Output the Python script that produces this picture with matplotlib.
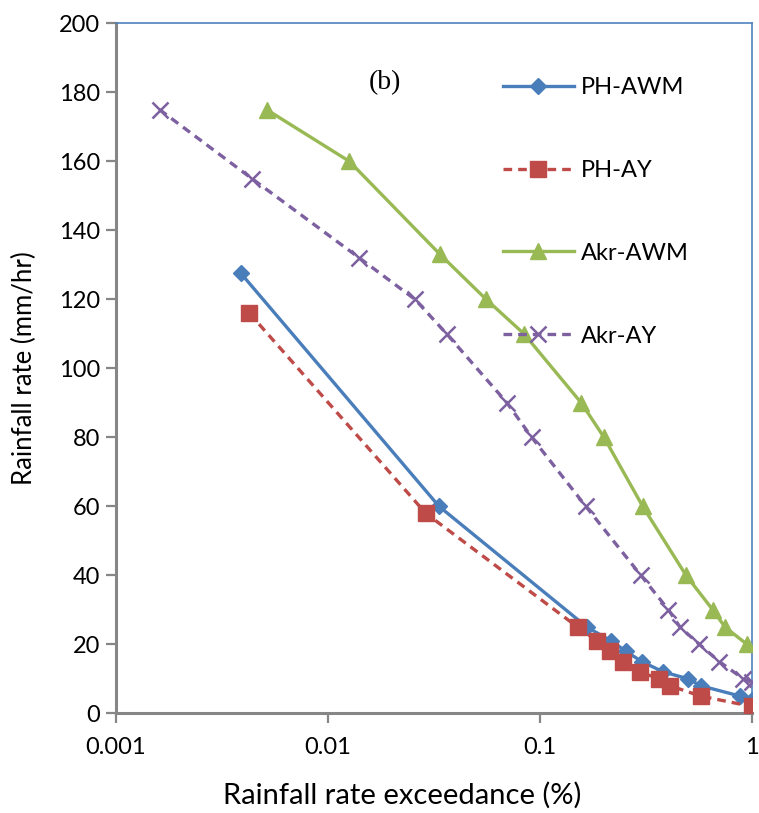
import matplotlib
matplotlib.use("Agg")
import matplotlib.pyplot as plt
from matplotlib.ticker import FixedLocator, NullLocator

# Exceedance (%) and rainfall rate (mm/hr) for each station / model
ph_awm_x = [0.0039, 0.0335, 0.167, 0.217, 0.255, 0.303, 0.383, 0.502, 0.574, 0.881, 1.0]
ph_awm_y = [127.5, 60, 25, 21, 18, 15, 12, 10, 8, 5, 4]

ph_ay_x = [0.00427, 0.029, 0.151, 0.186, 0.215, 0.248, 0.297, 0.366, 0.412, 0.574, 1.0]
ph_ay_y = [116, 58, 25, 21, 18, 15, 12, 10, 8, 5, 2]

akr_awm_x = [0.00515, 0.01265, 0.0339, 0.0559, 0.0843, 0.157, 0.201, 0.306, 0.490, 0.655, 0.748, 0.95]
akr_awm_y = [175, 160, 133, 120, 110, 90, 80, 60, 40, 30, 25, 20]

akr_ay_x = [0.00161, 0.00439, 0.0141, 0.0258, 0.0364, 0.0701, 0.0917, 0.165, 0.300, 0.405, 0.459, 0.566, 0.703, 0.913, 1.0]
akr_ay_y = [175, 155, 132, 120, 110, 90, 80, 60, 40, 30, 25, 20, 15, 10, 9]

x_ticks = [0.001, 0.01, 0.1, 1]
x_tick_labels = ["0.001", "0.01", "0.1", "1"]
y_ticks = [0, 20, 40, 60, 80, 100, 120, 140, 160, 180, 200]

plt.rcParams["font.family"] = ["Lato", "DejaVu Sans"]

fig = plt.figure(figsize=(7.59, 8.13), dpi=100)
ax = fig.add_axes([0.1524, 0.1226, 0.8380, 0.8487])

blue = "#4A7EBB"
red = "#BE4B48"
green = "#98B954"
purple = "#7D60A0"

dash = (0, (2.6, 1.8))
ax.plot(ph_awm_x, ph_awm_y, color=blue, lw=2.4, marker="D", ms=8.5,
        mec=blue, mfc=blue, label="PH-AWM", zorder=3)
ax.plot(ph_ay_x, ph_ay_y, color=red, lw=2.4, ls=dash, marker="s", ms=11,
        mec=red, mfc=red, label="PH-AY", zorder=3)
ax.plot(akr_awm_x, akr_awm_y, color=green, lw=2.4, marker="^", ms=12,
        mec=green, mfc=green, label="Akr-AWM", zorder=3)
ax.plot(akr_ay_x, akr_ay_y, color=purple, lw=2.4, ls=dash, marker="x", ms=11,
        mew=1.8, mec=purple, label="Akr-AY", zorder=3)

ax.set_xscale("log")
ax.set_xlim(0.001, 1)
ax.set_ylim(0, 200)
ax.xaxis.set_major_locator(FixedLocator(x_ticks))
ax.xaxis.set_minor_locator(NullLocator())
ax.set_xticklabels(x_tick_labels)
ax.set_yticks(y_ticks)

for side in ("left", "bottom"):
    ax.spines[side].set_color("#868686")
    ax.spines[side].set_linewidth(2.2)
for side in ("top", "right"):
    ax.spines[side].set_color("#4F81BD")
    ax.spines[side].set_linewidth(1.2)

ax.tick_params(axis="both", which="major", direction="out", length=7, width=1.6,
               color="#868686", labelsize=17, pad=6)
ax.tick_params(axis="y", pad=4)
ax.tick_params(axis="x", pad=10)

ax.set_xlabel("Rainfall rate exceedance (%)", fontsize=21, labelpad=16)
ax.xaxis.set_label_coords(0.45, -0.1)
ax.set_ylabel("Rainfall rate (mm/hr)", fontsize=18.5, labelpad=16)

ax.text(0.424, 0.914, "(b)", transform=ax.transAxes, fontsize=20,
        family="Liberation Serif", ha="center", va="center")

leg = ax.legend(loc="upper left", bbox_to_anchor=(0.594, 0.936), frameon=False,
                fontsize=17, handlelength=3.0, handletextpad=0.3,
                labelspacing=2.62, borderaxespad=0)

fig.savefig("out.png", dpi=100)
